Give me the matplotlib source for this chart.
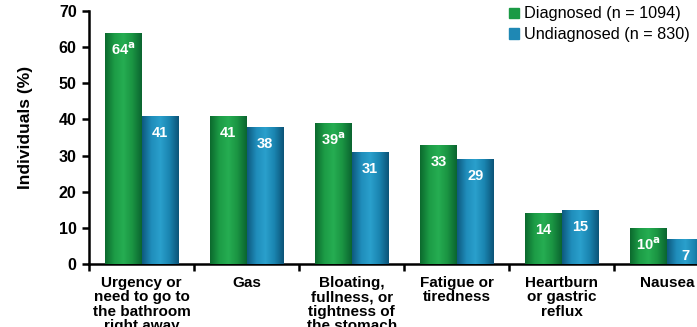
import numpy as np
import matplotlib
matplotlib.use('Agg')
import matplotlib.pyplot as plt
from matplotlib.colors import LinearSegmentedColormap
from matplotlib.patches import Rectangle

plt.rcParams['font.family'] = ['Liberation Sans', 'DejaVu Sans']

# Data
categories = ['Urgency or\nneed to go to\nthe bathroom\nright away', 'Gas',
              'Bloating,\nfullness, or\ntightness of\nthe stomach', 'Fatigue or\ntiredness',
              'Heartburn\nor gastric\nreflux', 'Nausea']
diagnosed = [64, 41, 39, 33, 14, 10]
undiagnosed = [41, 38, 31, 29, 15, 7]
diag_sig = [True, False, True, False, False, True]
series_names = ['Diagnosed (n = 1094)', 'Undiagnosed (n = 830)']

GREEN = '#1a9a45'
BLUE = '#1f88b4'
green_cmap = LinearSegmentedColormap.from_list('g', ['#0c6a2e', '#1c9c46', '#26ad52', '#1a9442', '#0b6530'])
blue_cmap = LinearSegmentedColormap.from_list('b', ['#0e5a80', '#1f8dbb', '#2aa0cc', '#1a84b0', '#0c5478'])

fig = plt.figure(figsize=(6.97, 3.27), dpi=100)
ax = fig.add_axes([0.128, 0.193, 0.904, 0.773])

x = np.arange(len(categories))
w = 0.35
bars_d = ax.bar(x - w / 2, diagnosed, w, color=GREEN, zorder=2)
bars_u = ax.bar(x + w / 2, undiagnosed, w, color=BLUE, zorder=2)

grad = np.linspace(0, 1, 64).reshape(1, -1)
for bars, cmap in [(bars_d, green_cmap), (bars_u, blue_cmap)]:
    for b in bars:
        bx, by, bw, bh = b.get_x(), b.get_y(), b.get_width(), b.get_height()
        im = ax.imshow(grad, cmap=cmap, aspect='auto', extent=(bx, bx + bw, by, by + bh), zorder=3)
        im.set_clip_path(b)

# value labels
for i, b in enumerate(bars_d):
    v = diagnosed[i]
    s = f'{v}' + (r'$^{\mathbf{a}}$' if diag_sig[i] else '')
    ax.text(b.get_x() + b.get_width() / 2, v - 4.7, s, ha='center', va='center',
            color='white', fontsize=10.5, fontweight='bold', zorder=5)
for i, b in enumerate(bars_u):
    v = undiagnosed[i]
    ax.text(b.get_x() + b.get_width() / 2, v - 4.7, f'{v}', ha='center', va='center',
            color='white', fontsize=10.5, fontweight='bold', zorder=5)

ax.set_xlim(-0.5, len(categories) - 0.5)
ax.set_ylim(0, 70)
ax.set_yticks(range(0, 71, 10))
ax.set_xticks(np.arange(-0.5, len(categories), 1))
ax.set_xticklabels([])
for s in ['top', 'right']:
    ax.spines[s].set_visible(False)
for s in ['left', 'bottom']:
    ax.spines[s].set_linewidth(1.8)
ax.tick_params(axis='y', length=5, width=1.8, labelsize=11.5, pad=4)
ax.tick_params(axis='x', length=5, width=1.8)
for lab in ax.get_yticklabels():
    lab.set_fontweight('bold')
ax.set_ylabel('Individuals (%)', fontsize=12.5, fontweight='bold')
ax.yaxis.set_label_coords(-0.089, 0.538)

for i, c in enumerate(categories):
    ax.text(x[i], -3.3, c, ha='center', va='top', fontsize=11, fontweight='bold',
            linespacing=1.05, transform=ax.transData, clip_on=False)

handles = [Rectangle((0, 0), 1, 1, color=GREEN), Rectangle((0, 0), 1, 1, color=BLUE)]
fig.legend(handles, series_names, loc='upper right', bbox_to_anchor=(1.01, 1.025),
           frameon=False, fontsize=11.7, handlelength=0.6, handleheight=0.6,
           handletextpad=0.3, labelspacing=0.35)

fig.savefig('out.png', dpi=100)
